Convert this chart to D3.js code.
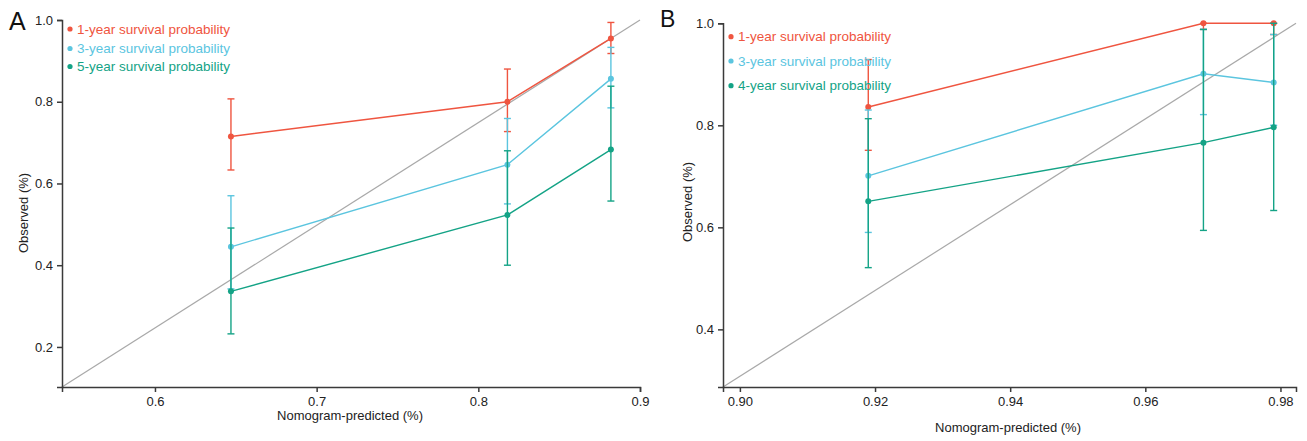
<!DOCTYPE html>
<html>
<head>
<meta charset="utf-8">
<script src="https://cdn.jsdelivr.net/npm/d3@7"></script>
<style>
  html, body { margin: 0; padding: 0; background: #fff; }
  svg { display: block; font-family: "Liberation Sans", Arial, sans-serif; }
</style>
</head>
<body>
<svg id="chart" width="1307" height="441"></svg>
<script>
// ---------- Panel A data ----------
const predA = [0.647, 0.818, 0.882];
const yr1A = [0.715, 0.800, 0.955];
const yr1ALo = [0.633, 0.727, 0.918];
const yr1AHi = [0.807, 0.880, 0.994];
const yr3A = [0.445, 0.646, 0.856];
const yr3ALo = [0.342, 0.550, 0.785];
const yr3AHi = [0.570, 0.759, 0.933];
const yr5A = [0.336, 0.523, 0.683];
const yr5ALo = [0.232, 0.400, 0.557];
const yr5AHi = [0.491, 0.680, 0.838];
const labelsA = ["1-year survival probability", "3-year survival probability", "5-year survival probability"];
const xTicksA = [0.6, 0.7, 0.8, 0.9];
const yTicksA = [0.2, 0.4, 0.6, 0.8, 1.0];
const xDomA = [0.5425, 0.9];
const yDomA = [0.102, 1.0];
const diagA = [[0.5425, 0.102], [0.9, 1.0]];

// ---------- Panel B data ----------
const predB = [0.919, 0.9686, 0.979];
const yr1B = [0.836, 1.000, 1.000];
const yr1BLo = [0.751, 0.988, 0.978];
const yr1BHi = [0.929, 1.000, 1.000];
const yr3B = [0.701, 0.901, 0.884];
const yr3BLo = [0.590, 0.821, 0.800];
const yr3BHi = [0.830, 0.988, 0.978];
const yr4B = [0.651, 0.766, 0.796];
const yr4BLo = [0.521, 0.594, 0.633];
const yr4BHi = [0.813, 0.988, 1.000];
const labelsB = ["1-year survival probability", "3-year survival probability", "4-year survival probability"];
const xTicksB = [0.90, 0.92, 0.94, 0.96, 0.98];
const yTicksB = [0.4, 0.6, 0.8, 1.0];
const xDomB = [0.8975, 0.9823];
const yDomB = [0.287, 1.0];
const diagB = [[0.8975, 0.287], [0.9823, 1.0]];

const colors = ["#ef5540", "#5bc5df", "#14a386"];

const svg = d3.select("#chart");

function panel(cfg) {
  const x = d3.scaleLinear().domain(cfg.xDom).range(cfg.xRange);
  const y = d3.scaleLinear().domain(cfg.yDom).range(cfg.yRange);
  const g = svg.append("g");

  // diagonal reference
  g.append("line")
    .attr("x1", x(cfg.diag[0][0])).attr("y1", y(cfg.diag[0][1]))
    .attr("x2", x(cfg.diag[1][0])).attr("y2", y(cfg.diag[1][1]))
    .attr("stroke", "#a9a9a9").attr("stroke-width", 1.2);

  // axes
  const xAxis = g.append("g")
    .attr("transform", `translate(0,${cfg.yRange[0]})`)
    .call(d3.axisBottom(x).tickValues(cfg.xTicks).tickFormat(d3.format(cfg.xFmt)).tickSize(5).tickSizeOuter(5).tickPadding(5));
  const yAxis = g.append("g")
    .attr("transform", `translate(${cfg.xRange[0]},0)`)
    .call(d3.axisLeft(y).tickValues(cfg.yTicks).tickFormat(d3.format(".1f")).tickSize(5).tickSizeOuter(5).tickPadding(4));
  [xAxis, yAxis].forEach(a => {
    a.selectAll("path, line").attr("stroke", "#3a3a3a").attr("stroke-width", 1.5);
    a.selectAll("text").attr("font-size", 13).attr("fill", "#222")
      .attr("font-family", "'Liberation Sans', Arial, sans-serif");
  });

  // series
  cfg.series.forEach((s, i) => {
    const col = colors[i];
    const pts = cfg.pred.map((p, j) => ({ x: p, y: s.v[j], lo: s.lo[j], hi: s.hi[j] }));
    g.append("path")
      .datum(pts)
      .attr("fill", "none").attr("stroke", col).attr("stroke-width", 1.4)
      .attr("d", d3.line().x(d => x(d.x)).y(d => y(d.y)));
    const eb = g.append("g");
    pts.forEach(d => {
      eb.append("line").attr("x1", x(d.x)).attr("x2", x(d.x))
        .attr("y1", y(d.lo)).attr("y2", y(d.hi))
        .attr("stroke", col).attr("stroke-width", 1.4);
      [d.lo, d.hi].forEach(v => {
        eb.append("line").attr("x1", x(d.x) - 3.5).attr("x2", x(d.x) + 3.5)
          .attr("y1", y(v)).attr("y2", y(v))
          .attr("stroke", col).attr("stroke-width", 1.4);
      });
    });
    g.selectAll(null).data(pts).enter().append("circle")
      .attr("cx", d => x(d.x)).attr("cy", d => y(d.y)).attr("r", 3)
      .attr("fill", col);
  });

  // legend
  cfg.labels.forEach((lab, i) => {
    const ly = cfg.legY[i];
    g.append("circle").attr("cx", cfg.legX).attr("cy", ly).attr("r", 2.6).attr("fill", colors[i]);
    g.append("text").attr("x", cfg.legX + 7).attr("y", ly + 4.5)
      .attr("font-size", 13.5).attr("fill", colors[i]).text(lab);
  });

  // axis titles
  g.append("text").attr("x", cfg.xTitle[0]).attr("y", cfg.xTitle[1])
    .attr("text-anchor", "middle").attr("font-size", 13).attr("fill", "#222")
    .text("Nomogram-predicted (%)");
  g.append("text")
    .attr("transform", `translate(${cfg.yTitle[0]},${cfg.yTitle[1]}) rotate(-90)`)
    .attr("text-anchor", "middle").attr("font-size", 13).attr("fill", "#222")
    .text("Observed (%)");

  // panel letter
  g.append("text").attr("x", cfg.letterPos[0]).attr("y", cfg.letterPos[1])
    .attr("font-size", cfg.letterSize).attr("fill", "#111").text(cfg.letter);
}

panel({
  xDom: xDomA, yDom: yDomA, xRange: [62, 640], yRange: [387, 20],
  diag: diagA, xTicks: xTicksA, yTicks: yTicksA, xFmt: ".1f",
  pred: predA,
  series: [
    { v: yr1A, lo: yr1ALo, hi: yr1AHi },
    { v: yr3A, lo: yr3ALo, hi: yr3AHi },
    { v: yr5A, lo: yr5ALo, hi: yr5AHi }
  ],
  labels: labelsA, legX: 70, legY: [29, 48.5, 66.5],
  xTitle: [350, 420], yTitle: [28, 213],
  letter: "A", letterPos: [9, 30], letterSize: 25
});

panel({
  xDom: xDomB, yDom: yDomB, xRange: [723, 1296], yRange: [387, 23.3],
  diag: diagB, xTicks: xTicksB, yTicks: yTicksB, xFmt: ".2f",
  pred: predB,
  series: [
    { v: yr1B, lo: yr1BLo, hi: yr1BHi },
    { v: yr3B, lo: yr3BLo, hi: yr3BHi },
    { v: yr4B, lo: yr4BLo, hi: yr4BHi }
  ],
  labels: labelsB, legX: 731, legY: [36.7, 61, 85.7],
  xTitle: [1008, 432], yTitle: [692, 202],
  letter: "B", letterPos: [660, 27], letterSize: 23
});
</script>
</body>
</html>
